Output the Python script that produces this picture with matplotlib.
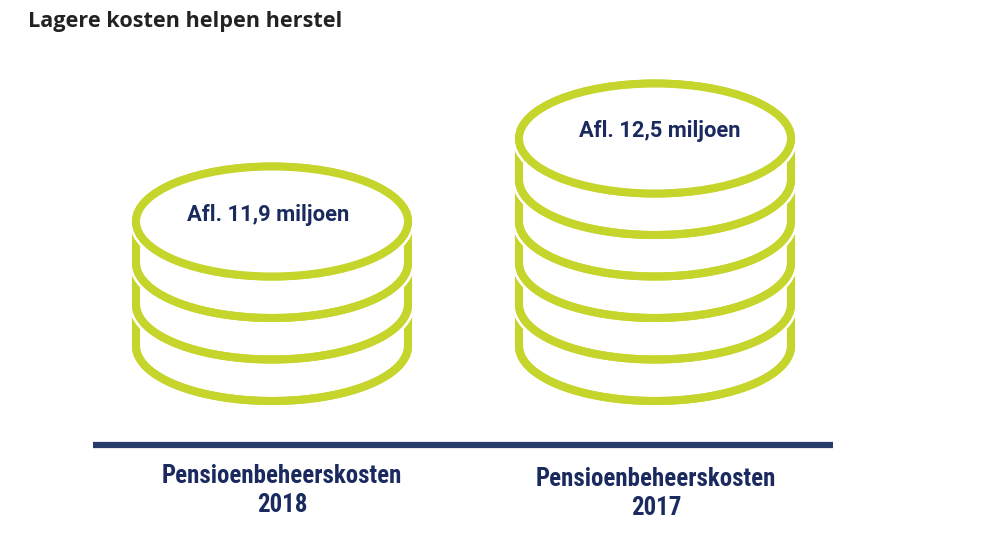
import numpy as np
import matplotlib
matplotlib.use("Agg")
import matplotlib.pyplot as plt
from matplotlib.patches import Ellipse
from matplotlib import patheffects as pe
from matplotlib import font_manager as fm

# ---- data ----
title = "Lagere kosten helpen herstel"
categories = ["Pensioenbeheerskosten\n2018", "Pensioenbeheerskosten\n2017"]
values = [11.9, 12.5]
value_labels = ["Afl. 11,9 miljoen", "Afl. 12,5 miljoen"]
coin_bands = [3, 5]          # coin layers drawn below the top face

# ---- styling ----
GREEN = "#c6d52b"
NAVY = "#1b2a5e"
LINE = "#283c6c"
W, H = 1004, 533

names = {f.name for f in fm.fontManager.ttflist}
def pick(cands, default="DejaVu Sans"):
    for c in cands:
        if c in names:
            return c
    return default

title_font = pick(["Open Sans", "Lato", "Liberation Sans"])
value_font = pick(["Roboto", "Open Sans", "Lato", "Liberation Sans"])
label_font = pick(["Liberation Sans Narrow", "Roboto Condensed", "Open Sans Condensed", "Roboto"])

fig = plt.figure(figsize=(W / 100, H / 100), dpi=100)
ax = fig.add_axes([0, 0, 1, 1])
ax.set_xlim(0, W)
ax.set_ylim(H, 0)
ax.axis("off")

fig.canvas.draw()
renderer = fig.canvas.get_renderer()

def fit(t, width_px):
    bb = t.get_window_extent(renderer)
    t.set_fontsize(t.get_fontsize() * width_px / bb.width)

# title
t = ax.text(28, 27, title, fontsize=14, fontweight="bold", family=title_font,
            color="#222222", ha="left", va="baseline")
fit(t, 315)

# coin stacks
centers_x = [272, 655]
bottom_y = 401
a, b = 136, 55          # half axes of coin face
band = 41.5             # coin thickness
lw = 5.8
halo = pe.withStroke(linewidth=lw + 4, foreground="white")
text_widths = [162, 161]

for i, (cx, n) in enumerate(zip(centers_x, coin_bands)):
    face_c = bottom_y - b - n * band
    z = 2
    for k in range(n - 1, -1, -1):
        y0 = face_c + k * band
        y1 = y0 + band
        th = np.linspace(np.pi, 0, 120)
        xs = np.concatenate([[cx - a, cx - a], cx + a * np.cos(th), [cx + a]])
        ys = np.concatenate([[y0, y1], y1 + b * np.sin(th), [y0]])
        ax.fill(xs, ys, color="white", zorder=z)
        ax.plot(xs, ys, color=GREEN, lw=lw, zorder=z + 1,
                solid_capstyle="butt", path_effects=[halo, pe.Normal()])
        z += 2
    face = Ellipse((cx, face_c), 2 * a, 2 * b, facecolor="white",
                   edgecolor=GREEN, lw=lw, zorder=z,
                   path_effects=[halo, pe.Normal()])
    ax.add_patch(face)
    vt = ax.text(cx - 4 + 9 * i, face_c - 7, value_labels[i], fontsize=12,
                 fontweight="bold", family=value_font, color=NAVY,
                 ha="center", va="center", zorder=z + 1)
    fit(vt, text_widths[i])

# baseline
ax.plot([93, 833], [445, 445], color=LINE, lw=4.5, solid_capstyle="butt", zorder=1)

# category labels
label_x = [282, 656]
label_y = [476, 479]
for i, cat in enumerate(categories):
    top, year = cat.split("\n")
    t1 = ax.text(label_x[i], label_y[i], top, fontsize=15, fontweight="bold",
                 family=label_font, color=NAVY, ha="center", va="center")
    fit(t1, 240)
    t2 = ax.text(label_x[i], label_y[i] + 29, year, fontsize=t1.get_fontsize(),
                 fontweight="bold", family=label_font, color=NAVY,
                 ha="center", va="center")

fig.savefig("out.png", dpi=100, facecolor="white")
